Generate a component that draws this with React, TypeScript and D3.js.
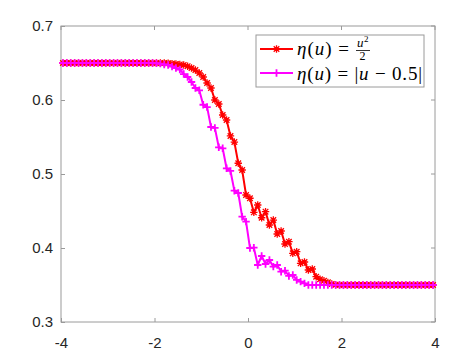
import React, { useEffect, useRef } from 'react';
import * as d3 from 'd3';

// 96 cell centres on [-4, 4]
const N = 96;
const xs = d3.range(N).map((i) => -4 + (i + 0.5) * (8 / N));

// eta(u) = u^2/2 : values for cells 27..70, flat 0.65 before, 0.35 after
const redMid = [
  0.6496, 0.6492, 0.6486, 0.6481, 0.6473, 0.6457, 0.6432, 0.6405, 0.6365, 0.6311,
  0.6230, 0.6162, 0.6000, 0.5946, 0.5797, 0.5730, 0.5514, 0.5432, 0.5145, 0.5054,
  0.4716, 0.4672, 0.4482, 0.4581, 0.4409, 0.4491, 0.4311, 0.4378, 0.4189, 0.4230,
  0.4054, 0.4085, 0.3928, 0.3950, 0.3793, 0.3811, 0.3703, 0.3716, 0.3612, 0.3577,
  0.3558, 0.3536, 0.3514, 0.3502,
];
// eta(u) = |u - 0.5| : values for cells 24..62
const magMid = [
  0.6496, 0.6491, 0.6480, 0.6473, 0.6453, 0.6432, 0.6412, 0.6351, 0.6311, 0.6243,
  0.6162, 0.6131, 0.5936, 0.5905, 0.5635, 0.5622, 0.5361, 0.5347, 0.5077, 0.5041,
  0.4774, 0.4743, 0.4423, 0.4356, 0.4000, 0.4004, 0.3770, 0.3892, 0.3784, 0.3838,
  0.3748, 0.3770, 0.3680, 0.3693, 0.3622, 0.3635, 0.3568, 0.3545, 0.3522,
];

const red = xs.map((_, i) => (i < 27 ? 0.65 : i < 27 + redMid.length ? redMid[i - 27] : 0.35));
const mag = xs.map((_, i) => (i < 24 ? 0.65 : i < 24 + magMid.length ? magMid[i - 24] : 0.35));

const xTicks = [-4, -2, 0, 2, 4];
const yTicks = [0.3, 0.4, 0.5, 0.6, 0.7];

export default function App() {
  const ref = useRef<SVGSVGElement>(null);

  useEffect(() => {
    const W = 471, H = 360;
    const m = { left: 61, right: 36, top: 26, bottom: 38 };
    const svg = d3.select(ref.current);
    svg.selectAll('*').remove();

    const x = d3.scaleLinear().domain([-4, 4]).range([m.left, W - m.right]);
    const y = d3.scaleLinear().domain([0.3, 0.7]).range([H - m.bottom, m.top]);

    svg.append('rect').attr('width', W).attr('height', H).attr('fill', 'white');

    const axisColor = '#9a9a9a';
    const font = 'Helvetica, Arial, "Liberation Sans", sans-serif';

    // axes box
    svg.append('rect')
      .attr('x', m.left).attr('y', m.top)
      .attr('width', W - m.left - m.right).attr('height', H - m.top - m.bottom)
      .attr('fill', 'none').attr('stroke', axisColor).attr('stroke-width', 1);

    const gx = svg.append('g').attr('transform', `translate(0,${H - m.bottom})`)
      .call(d3.axisBottom(x).tickValues(xTicks).tickSize(-4).tickPadding(12).tickFormat((d) => String(d)));
    const gy = svg.append('g').attr('transform', `translate(${m.left},0)`)
      .call(d3.axisLeft(y).tickValues(yTicks).tickSize(-4).tickPadding(8).tickFormat(d3.format('.1f')));
    [gx, gy].forEach((g) => {
      g.select('.domain').remove();
      g.selectAll('line').attr('stroke', axisColor);
      g.selectAll('text').attr('fill', '#262626').style('font-family', font).style('font-size', '15px');
    });
    gx.selectAll('text').attr('dy', '0.95em');
    // top/right ticks
    xTicks.forEach((t) => svg.append('line').attr('x1', x(t)).attr('x2', x(t)).attr('y1', m.top).attr('y2', m.top + 4).attr('stroke', axisColor));
    yTicks.forEach((t) => svg.append('line').attr('x1', W - m.right).attr('x2', W - m.right - 4).attr('y1', y(t)).attr('y2', y(t)).attr('stroke', axisColor));

    const line = d3.line<number>().x((_, i) => x(xs[i])).y((d) => y(d));
    const s = 3.7;
    const starPath = `M${-s},0H${s}M0,${-s}V${s}M${-s * 0.75},${-s * 0.75}L${s * 0.75},${s * 0.75}M${-s * 0.75},${s * 0.75}L${s * 0.75},${-s * 0.75}`;
    const plusPath = `M${-s},0H${s}M0,${-s}V${s}`;

    function drawSeries(vals: number[], color: string, star: boolean) {
      const g = svg.append('g');
      g.append('path').attr('d', line(vals)).attr('fill', 'none').attr('stroke', color).attr('stroke-width', 2);
      g.selectAll('path.mk').data(vals).enter().append('path').attr('class', 'mk')
        .attr('transform', (d, i) => `translate(${x(xs[i])},${y(d)})`)
        .attr('d', star ? starPath : plusPath)
        .attr('stroke', color).attr('stroke-width', star ? 1.3 : 1.8).attr('fill', 'none');
    }
    drawSeries(red, '#ff0000', true);
    drawSeries(mag, '#ff00ff', false);

    // legend
    const lg = svg.append('g');
    lg.append('rect').attr('x', 256).attr('y', 35).attr('width', 168).attr('height', 52)
      .attr('fill', 'white').attr('stroke', axisColor).attr('stroke-width', 1);
    const rows = [
      { color: '#ff0000', star: true, cy: 49 },
      { color: '#ff00ff', star: false, cy: 73 },
    ];
    rows.forEach((r) => {
      lg.append('line').attr('x1', 260).attr('x2', 293).attr('y1', r.cy).attr('y2', r.cy)
        .attr('stroke', r.color).attr('stroke-width', 2);
      lg.append('path').attr('transform', `translate(276.5,${r.cy})`).attr('d', r.star ? starPath : plusPath)
        .attr('stroke', r.color).attr('stroke-width', r.star ? 1.3 : 1.8).attr('fill', 'none');
    });
    const tf = '"Liberation Serif", "Times New Roman", serif';
    const t1 = lg.append('text').attr('x', 297).attr('y', 55).style('font-family', tf).style('font-size', '19px')
      .attr('fill', '#000').attr('textLength', 52).attr('lengthAdjust', 'spacing');
    t1.append('tspan').style('font-style', 'italic').text('η');
    t1.append('tspan').text('(');
    t1.append('tspan').style('font-style', 'italic').text('u');
    t1.append('tspan').text(') =');
    // fraction u^2 / 2
    lg.append('text').attr('x', 357).attr('y', 46.5).style('font-family', tf).style('font-size', '13px')
      .style('font-style', 'italic').text('u');
    lg.append('text').attr('x', 364).attr('y', 41.5).style('font-family', tf).style('font-size', '9px').text('2');
    lg.append('line').attr('x1', 356).attr('x2', 370).attr('y1', 50.5).attr('y2', 50.5).attr('stroke', '#000').attr('stroke-width', 0.8);
    lg.append('text').attr('x', 359.5).attr('y', 59.5).style('font-family', tf).style('font-size', '12px').text('2');

    const t2 = lg.append('text').attr('x', 297).attr('y', 80).style('font-family', tf).style('font-size', '19px')
      .attr('fill', '#000').attr('textLength', 125).attr('lengthAdjust', 'spacing');
    t2.append('tspan').style('font-style', 'italic').text('η');
    t2.append('tspan').text('(');
    t2.append('tspan').style('font-style', 'italic').text('u');
    t2.append('tspan').text(') = |');
    t2.append('tspan').style('font-style', 'italic').text('u');
    t2.append('tspan').text(' − 0.5|');
  }, []);

  return (
    <svg ref={ref} width={471} height={360} style={{ position: 'absolute', left: 0, top: 0 }} />
  );
}
